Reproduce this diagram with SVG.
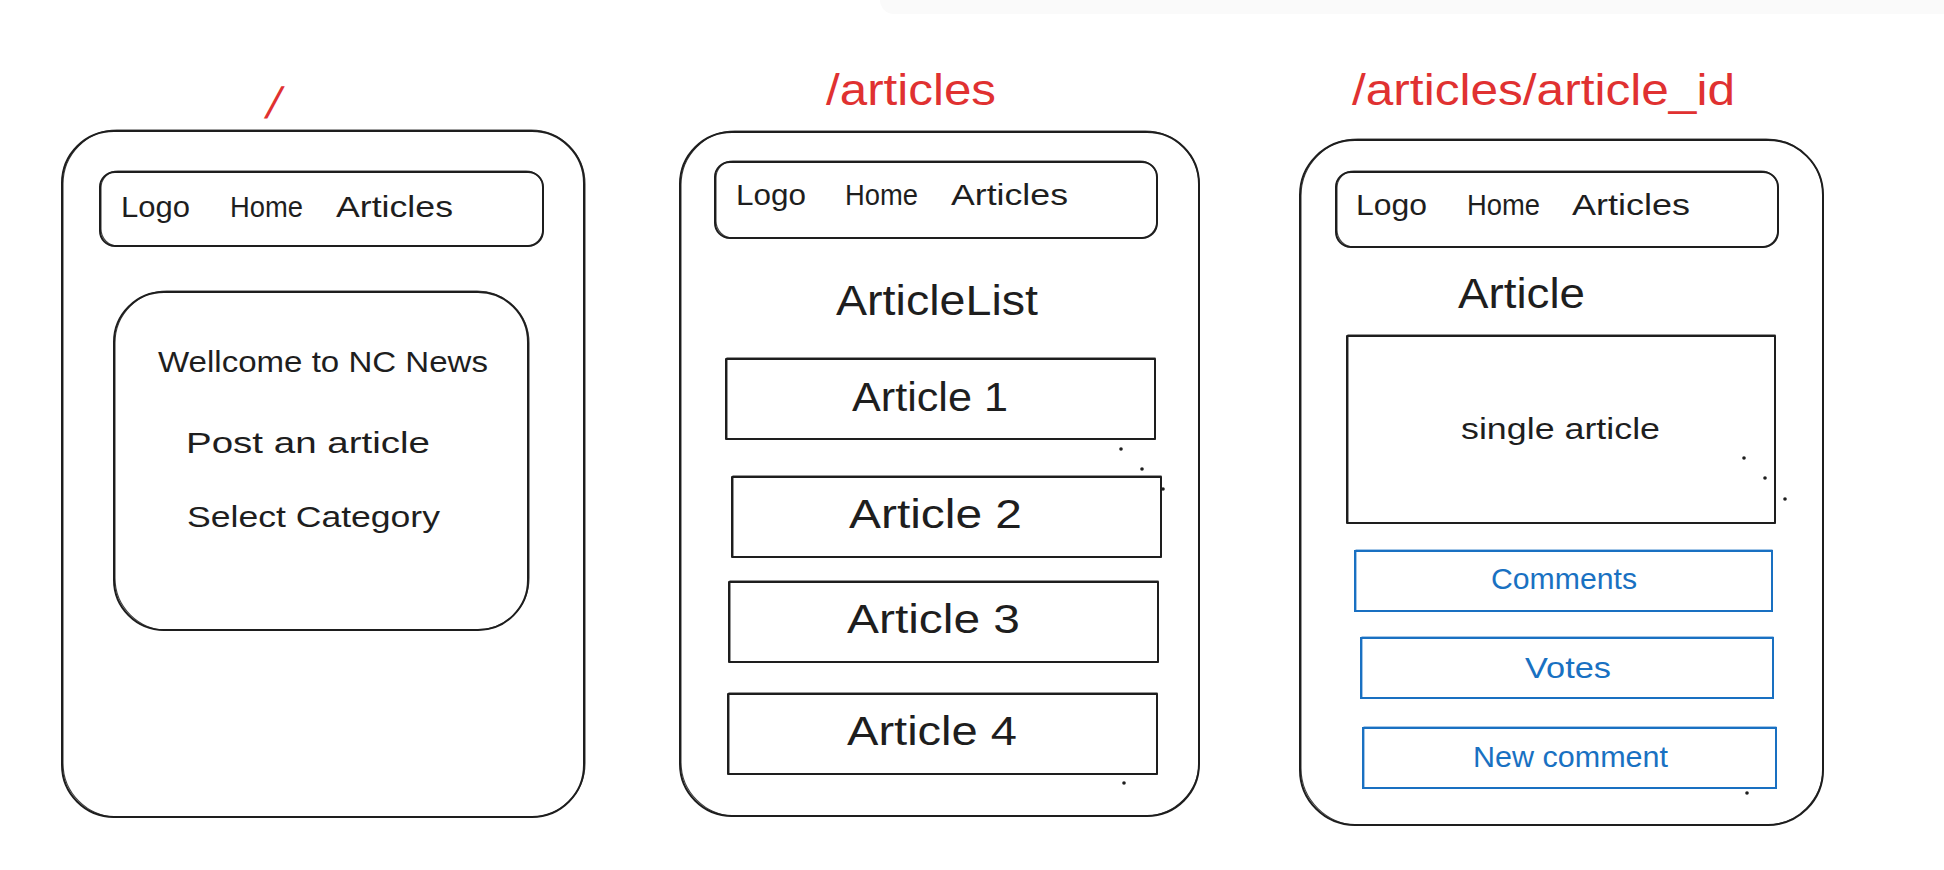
<svg xmlns="http://www.w3.org/2000/svg" width="1944" height="870" viewBox="0 0 1944 870">
<style>
.s{fill:none;stroke:#1e1e1e;stroke-width:2;stroke-linecap:round;stroke-linejoin:round}
.s2{fill:none;stroke:#1e1e1e;stroke-width:1.1;opacity:.85}
.b{fill:none;stroke:#1971c2;stroke-width:2}
.b2{fill:none;stroke:#1971c2;stroke-width:1;opacity:.8}
.t{font-family:"Liberation Sans","DejaVu Sans",sans-serif;fill:#1e1e1e}
.n{font-size:29px}
.m{font-size:30px}
.h{font-size:42px}
.a{font-size:40px}
.r{font-family:"Liberation Sans","DejaVu Sans",sans-serif;fill:#e03131;font-size:44px}
.bl{fill:#1971c2}
.dot{fill:#1e1e1e}
</style>
<rect width="1944" height="870" fill="#ffffff"/>
<rect x="880" y="-20" width="1080" height="34" rx="14" fill="#fafafa"/>

<g id="page-home">
  <text class="r" x="0" y="0" font-size="46" transform="translate(264,118) skewX(-15)">/</text>
  <rect class="s" x="62" y="131" width="522" height="686" rx="52"/>
  <rect class="s2" x="63" y="130" width="522" height="687" rx="54"/>
  <g id="home-nav">
    <rect class="s" x="100" y="172" width="443" height="74" rx="15"/>
    <rect class="s2" x="101" y="171" width="442" height="75" rx="17"/>
    <text class="t n" x="121" y="217" textLength="69" lengthAdjust="spacingAndGlyphs">Logo</text>
    <text class="t n" x="230" y="217" textLength="73" lengthAdjust="spacingAndGlyphs">Home</text>
    <text class="t n" x="336" y="217" textLength="117" lengthAdjust="spacingAndGlyphs">Articles</text>
  </g>
  <g id="home-content">
    <rect class="s" x="114" y="292" width="414" height="338" rx="50"/>
    <rect class="s2" x="115" y="291" width="414" height="339" rx="52"/>
    <text class="t m" x="158" y="372" textLength="330" lengthAdjust="spacingAndGlyphs">Wellcome to NC News</text>
    <text class="t m" x="186" y="453" textLength="244" lengthAdjust="spacingAndGlyphs">Post an article</text>
    <text class="t m" x="187" y="527" textLength="253" lengthAdjust="spacingAndGlyphs">Select Category</text>
  </g>
</g>

<g id="page-articles">
  <text class="r" x="826" y="105" textLength="170" lengthAdjust="spacingAndGlyphs">/articles</text>
  <rect class="s" x="680" y="132" width="519" height="684" rx="52"/>
  <rect class="s2" x="681" y="131" width="518" height="685" rx="54"/>
  <g id="articles-nav">
    <rect class="s" x="715" y="162" width="442" height="76" rx="15"/>
    <rect class="s2" x="716" y="161" width="441" height="77" rx="17"/>
    <text class="t n" x="736" y="205" textLength="70" lengthAdjust="spacingAndGlyphs">Logo</text>
    <text class="t n" x="845" y="205" textLength="73" lengthAdjust="spacingAndGlyphs">Home</text>
    <text class="t n" x="951" y="205" textLength="117" lengthAdjust="spacingAndGlyphs">Articles</text>
  </g>
  <text class="t h" x="836" y="315" textLength="202" lengthAdjust="spacingAndGlyphs">ArticleList</text>
  <g id="article-1">
    <rect class="s" x="726" y="359" width="429" height="80"/>
    <rect class="s2" x="727" y="358" width="428" height="81"/>
    <text class="t a" x="852" y="411" textLength="156" lengthAdjust="spacingAndGlyphs">Article 1</text>
  </g>
  <g id="article-2">
    <rect class="s" x="732" y="477" width="429" height="80"/>
    <rect class="s2" x="733" y="476" width="428" height="81"/>
    <text class="t a" x="849" y="528" textLength="173" lengthAdjust="spacingAndGlyphs">Article 2</text>
  </g>
  <g id="article-3">
    <rect class="s" x="729" y="582" width="429" height="80"/>
    <rect class="s2" x="730" y="581" width="428" height="81"/>
    <text class="t a" x="847" y="633" textLength="173" lengthAdjust="spacingAndGlyphs">Article 3</text>
  </g>
  <g id="article-4">
    <rect class="s" x="728" y="694" width="429" height="80"/>
    <rect class="s2" x="729" y="693" width="428" height="81"/>
    <text class="t a" x="847" y="745" textLength="170" lengthAdjust="spacingAndGlyphs">Article 4</text>
  </g>
  <circle class="dot" cx="1121" cy="449" r="1.8"/>
  <circle class="dot" cx="1142" cy="469" r="1.8"/>
  <circle class="dot" cx="1163" cy="489" r="1.8"/>
  <circle class="dot" cx="1124" cy="783" r="1.8"/>
</g>

<g id="page-article-id">
  <text class="r" x="1352" y="105" textLength="383" lengthAdjust="spacingAndGlyphs">/articles/article_id</text>
  <rect class="s" x="1300" y="140" width="523" height="685" rx="55"/>
  <rect class="s2" x="1301" y="139" width="522" height="686" rx="57"/>
  <g id="article-id-nav">
    <rect class="s" x="1336" y="172" width="442" height="75" rx="15"/>
    <rect class="s2" x="1337" y="171" width="441" height="76" rx="17"/>
    <text class="t n" x="1356" y="215" textLength="71" lengthAdjust="spacingAndGlyphs">Logo</text>
    <text class="t n" x="1467" y="215" textLength="73" lengthAdjust="spacingAndGlyphs">Home</text>
    <text class="t n" x="1572" y="215" textLength="118" lengthAdjust="spacingAndGlyphs">Articles</text>
  </g>
  <text class="t h" x="1458" y="308" textLength="127" lengthAdjust="spacingAndGlyphs">Article</text>
  <g id="single-article">
    <rect class="s" x="1347" y="336" width="428" height="187"/>
    <rect class="s2" x="1348" y="335" width="427" height="188"/>
    <text class="t m" x="1461" y="439" textLength="199" lengthAdjust="spacingAndGlyphs">single article</text>
  </g>
  <g id="comments">
    <rect class="b" x="1355" y="551" width="417" height="60"/>
    <rect class="b2" x="1356" y="550" width="416" height="61"/>
    <text class="t m bl" x="1491" y="589" textLength="146" lengthAdjust="spacingAndGlyphs">Comments</text>
  </g>
  <g id="votes">
    <rect class="b" x="1361" y="638" width="412" height="60"/>
    <rect class="b2" x="1362" y="637" width="411" height="61"/>
    <text class="t m bl" x="1525" y="678" textLength="86" lengthAdjust="spacingAndGlyphs">Votes</text>
  </g>
  <g id="new-comment">
    <rect class="b" x="1363" y="728" width="413" height="60"/>
    <rect class="b2" x="1364" y="727" width="412" height="61"/>
    <text class="t m bl" x="1473" y="767" textLength="195" lengthAdjust="spacingAndGlyphs">New comment</text>
  </g>
  <circle class="dot" cx="1744" cy="458" r="1.8"/>
  <circle class="dot" cx="1765" cy="478" r="1.8"/>
  <circle class="dot" cx="1785" cy="499" r="1.8"/>
  <circle class="dot" cx="1747" cy="793" r="1.8"/>
</g>

<g id="connectors"></g>
</svg>
